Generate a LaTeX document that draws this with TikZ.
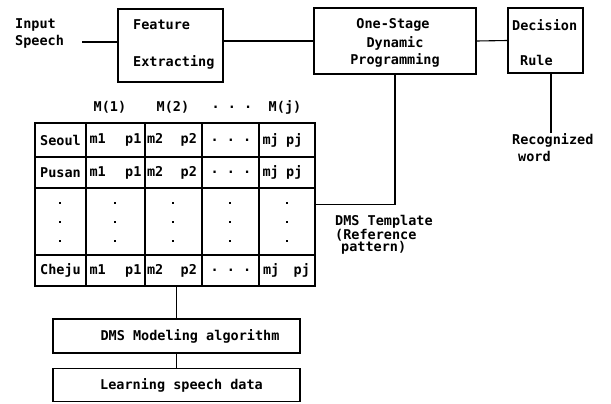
\documentclass[tikz,border=0pt]{standalone}
\usepackage{fontspec}
\setmonofont{DejaVu Sans Mono}
\begin{document}
\begin{tikzpicture}[x=1pt,y=-1pt,
  every node/.style={font=\fontsize{13.5}{15}\selectfont\ttfamily\bfseries, inner sep=0pt},
  box/.style={draw, line width=1.2pt, rectangle},
  wire/.style={line width=1.1pt},
  lbl/.style={anchor=west},
  dot/.style={fill, inner sep=0pt, minimum size=2.4pt, rectangle}]
\useasboundingbox (0,0) rectangle (611,404);

% --- recognition chain ---
\node[lbl] (inp1) at (15,25) {Input};
\node[lbl] (inp2) at (15,42) {Speech};
\coordinate (inpend) at (82,42);

\node[box, minimum width=105pt, minimum height=73pt] (feat) at (170.5,45.5) {};
\node[lbl] (feat1) at (133,25) {Feature};
\node[lbl] (feat2) at (133,62) {Extracting};

\node[box, minimum width=162pt, minimum height=66pt] (ods) at (395,41) {};
\node (ods1) at (393,25) {One-Stage};
\node (ods2) at (395,43) {Dynamic};
\node (ods3) at (395,60) {Programming};

\node[box, minimum width=75pt, minimum height=65pt] (dec) at (545.5,40.5) {};
\node[lbl] (dec1) at (512,25) {Decision};
\node[lbl] (dec2) at (520,60) {Rule};

\draw[wire] (inpend) -- (inpend -| feat.west);
\draw[wire] (ods.west) -- (ods.west -| feat.east);
\draw[wire] (ods.east) -- (dec.west);

\coordinate (recend) at (551,133);
\draw[wire] (recend) -- (recend |- dec.south);
\node[lbl] (rec1) at (512,140) {Recognized};
\node[lbl] (rec2) at (518,156) {word};

% --- DMS template table ---
\node[box, minimum width=280pt, minimum height=163pt] (tbl) at (175,204.5) {};
\foreach \y in {157,188,255}
  \draw[line width=1.2pt] (35,\y) -- (315,\y);
\foreach \x in {86,145,202,259}
  \draw[line width=1.2pt] (\x,123) -- (\x,286);

\node (h1) at (110,107) {M(1)};
\node (h2) at (173,107) {M(2)};
\node (h3) at (232,107) {. . .};
\node (h4) at (285,107) {M(j)};

\foreach \name/\y in {Seoul/140, Pusan/172.5, Cheju/270.5}{
  \node (row\name) at (60.5,\y) {\name};
  \node (c1\name) at (115.5,\y) {\makebox[52pt]{m1\hfill p1}};
  \node (c2\name) at (172,\y) {\makebox[50pt]{m2\hfill p2}};
  \node (c3\name) at (231,\y) {. . .};
}
\node (c4Seoul) at (282.5,140) {\makebox[40pt]{mj\hfill pj}};
\node (c4Pusan) at (282.5,172.5) {\makebox[40pt]{mj\hfill pj}};
\node (c4Cheju) at (286.5,270.5) {\makebox[47pt]{mj\hfill pj}};

\foreach \x in {60,115,173,230,287}
  \foreach \y in {203,222,241}
    \node[dot] at (\x,\y) {};

\draw[wire] (ods.south) |- (tbl.east);
\node[lbl] (tpl1) at (335,222) {DMS Template};
\node[lbl] (tpl2) at (335,235) {(Reference};
\node[lbl] (tpl3) at (341,248) {pattern)};

% --- modelling and training boxes ---
\node[box, minimum width=247pt, minimum height=34pt] (mod) at (176.5,336) {\hspace*{27pt}DMS Modeling algorithm};
\node[box, minimum width=247pt, minimum height=33pt] (learn) at (176.5,385) {\hspace*{10pt}Learning speech data};
\draw[wire] (mod.north) -- (mod.north |- tbl.south);
\draw[wire] (learn.north) -- (mod.south);
\end{tikzpicture}
\end{document}
